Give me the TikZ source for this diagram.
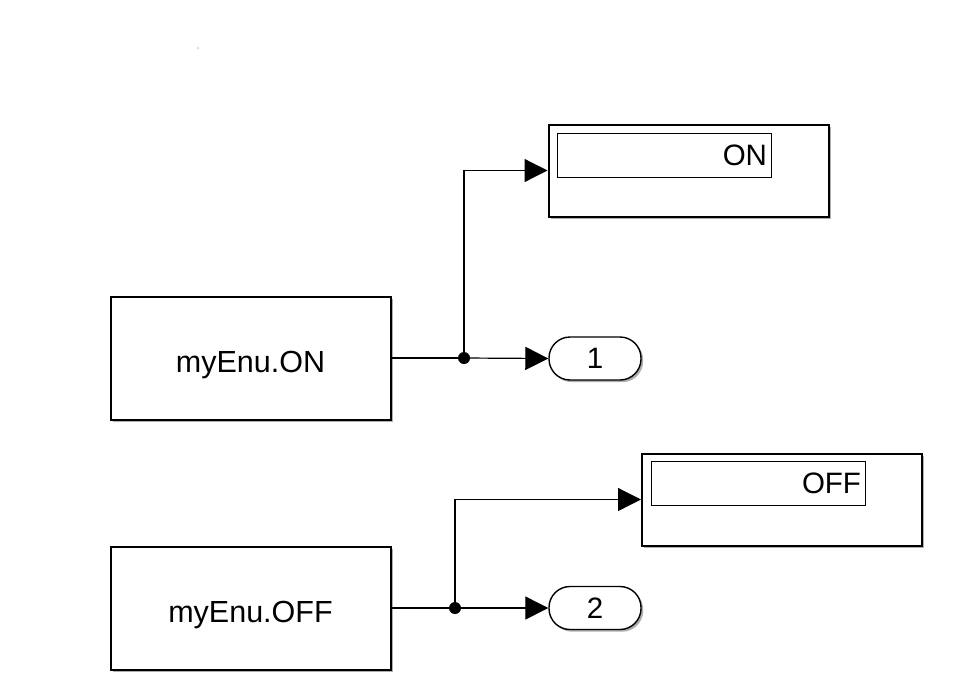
\documentclass[tikz,border=0pt]{standalone}
\usepackage{fontspec}
\setmainfont{Liberation Sans}
\usetikzlibrary{arrows.meta,shadows}
\begin{document}
\begin{tikzpicture}[x=1pt,y=-1pt,
  shd/.style={drop shadow={shadow xshift=2.2pt, shadow yshift=-2.2pt, fill=black!45, opacity=0.7}},
  block/.style={draw, line width=2pt, fill=white, shd, minimum width=280pt, minimum height=123pt, inner sep=0pt, text height=28pt, text depth=0pt, font=\fontsize{30.5}{36}\selectfont},
  disp/.style={draw, line width=2pt, fill=white, shd, minimum width=280pt, minimum height=92pt, inner sep=0pt},
  dispin/.style={draw, line width=1pt, text width=206pt, inner xsep=4pt, inner ysep=0pt, minimum height=44pt, align=right, text height=20.5pt, text depth=0pt, font=\fontsize{29.5}{35}\selectfont},
  outp/.style={draw, line width=1.4pt, fill=white, shd, rounded corners=21pt, minimum width=92pt, minimum height=43pt, inner sep=0pt, text height=20pt, text depth=0pt, font=\fontsize{29.5}{35}\selectfont},
  sig/.style={line width=1.2pt, -{Triangle[length=23pt, width=23pt]}},
  dot/.style={circle, fill=black, inner sep=0pt, minimum size=12pt}
]
\useasboundingbox (0,0) rectangle (963,686);
\fill[blue!15] (198,48) circle (1.5);

\node[block] (c1) at (250.5,358) {myEnu.ON};
\node[block] (c2) at (250.5,608) {myEnu.OFF};

\node[disp] (d1) at (688.5,170.5) {};
\node[dispin] (d1in) at (664,155) {ON};
\node[disp] (d2) at (782,499.5) {};
\node[dispin] (d2in) at (758,483) {OFF};

\node[outp] (o1) at (595,358.5) {1};
\node[outp] (o2) at (595,608) {2};

\node[dot] (b1) at (464,358) {};
\node[dot] (b2) at (455,608) {};

\draw[line width=1.2pt] (c1.east) -- (b1.center);
\draw[sig] (b1.center) -- (o1.west);
\draw[sig] (b1.center) |- (d1.west);

\draw[line width=1.2pt] (c2.east) -- (b2.center);
\draw[sig] (b2.center) -- (o2.west);
\draw[sig] (b2.center) |- (d2.west);
\end{tikzpicture}
\end{document}
